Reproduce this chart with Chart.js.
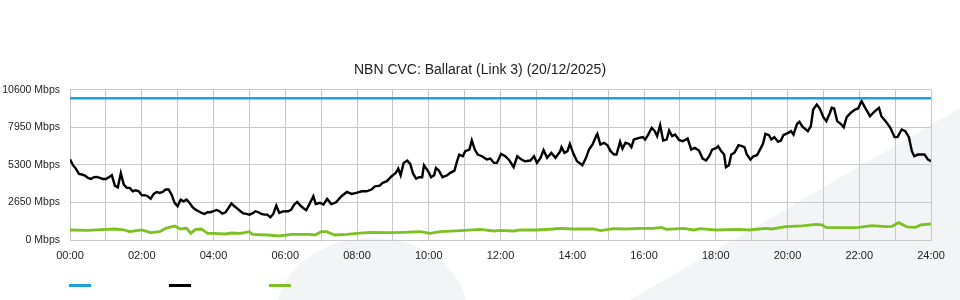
<!DOCTYPE html>
<html>
<head>
<meta charset="utf-8">
<script src="https://cdn.jsdelivr.net/npm/chart.js@4.4.1/dist/chart.umd.min.js"></script>
<style>
  html, body { margin: 0; padding: 0; background: #fff; }
  #wrap { width: 960px; height: 300px; position: relative; }
</style>
</head>
<body>
<div id="wrap"><canvas id="cvc"></canvas></div>
<script>
// ----- data -----
const title = "NBN CVC: Ballarat (Link 3) (20/12/2025)";
const yTicks = [0, 2650, 5300, 7950, 10600];
const xTickLabels = ["00:00","02:00","04:00","06:00","08:00","10:00","12:00","14:00","16:00","18:00","20:00","22:00","24:00"];

// capacity (blue)
const capTimes  = ["00:00", "24:00"];
const capValues = [10000, 10000];

// download traffic (black)
const dlTimes = [
  "00:00","00:05","00:10","00:15","00:20","00:25","00:30","00:35","00:40","00:45","00:50","00:55",
  "01:00","01:05","01:10","01:15","01:20","01:25","01:30","01:35","01:40","01:45","01:50","01:55",
  "02:00","02:05","02:10","02:15","02:20","02:25","02:30","02:35","02:40","02:45","02:50","02:55",
  "03:00","03:05","03:10","03:15","03:20","03:25","03:30","03:35","03:40","03:45","03:50","03:55",
  "04:00","04:05","04:10","04:15","04:20","04:25","04:30","04:35","04:40","04:45","04:50","04:55",
  "05:00","05:05","05:10","05:15","05:20","05:25","05:30","05:35","05:40","05:45","05:50","05:55",
  "06:00","06:05","06:10","06:15","06:20","06:25","06:30","06:35","06:40","06:47","06:51","06:58",
  "07:04","07:10","07:17","07:25","07:34","07:43","07:51","07:59",
  "08:08","08:16","08:24","08:30","08:38","08:43","08:50","08:58",
  "09:05","09:09","09:13","09:18","09:24","09:29","09:34","09:39","09:44","09:49","09:52","09:59",
  "10:04","10:09","10:12","10:17","10:23","10:31","10:36","10:43","10:47","10:51","10:57",
  "11:01","11:08","11:12","11:17","11:22","11:29","11:37","11:43","11:49","11:54",
  "12:01","12:08","12:15","12:22","12:28","12:35","12:41","12:50","12:56",
  "13:01","13:07","13:12","13:18","13:25","13:32","13:40","13:42","13:47","13:52","13:56",
  "14:02","14:08","14:17","14:23","14:28","14:34","14:40","14:42","14:47","14:53","14:59",
  "15:04","15:10","15:14","15:20","15:24","15:29","15:35","15:39","15:43","15:52","15:58",
  "16:02","16:07","16:13","16:18","16:22","16:27","16:32","16:38","16:42","16:47","16:52","16:59",
  "17:05","17:13","17:19","17:25","17:32","17:38","17:44","17:49","17:54",
  "18:01","18:04","18:09","18:14","18:17","18:22","18:26","18:31","18:35","18:38","18:44","18:48","18:52","18:58",
  "19:03","19:09","19:14","19:19","19:23","19:29","19:33","19:38","19:44","19:49","19:53",
  "20:01","20:06","20:10","20:16","20:20","20:25","20:34","20:39","20:43","20:49","20:54",
  "21:00","21:05","21:11","21:14","21:18","21:23","21:29","21:34","21:39","21:46","21:53","21:58",
  "22:04","22:10","22:18","22:25","22:33","22:37","22:44","22:52","22:59",
  "23:04","23:11","23:17","23:23","23:28","23:32","23:38","23:43","23:49","23:55","24:00"
];
const dlValues = [
  5700,5280,5020,4660,4620,4550,4380,4310,4430,4450,4380,4310,
  4310,4430,4570,3840,3720,4710,3910,3680,3680,3440,3510,3440,
  3160,3160,3090,2920,3250,3390,3320,3390,3560,3560,3200,2620,
  2380,2850,2730,2850,2620,2310,2140,2030,1910,1840,1960,1960,
  2030,2120,2030,1860,1950,2260,2590,2380,2210,2030,1880,1840,
  1790,1880,2030,1960,1840,1790,1790,1600,1840,2430,1910,2000,
  2030,2030,2140,2500,2690,2450,2260,2100,2500,3090,2540,2620,
  2500,2900,2540,2660,3090,3390,3250,3320,
  3440,3440,3560,3790,3840,4030,4150,4500,
  4740,5040,4570,5440,5610,5370,4660,4330,4430,4430,5280,4850,
  4430,4570,5090,4900,4430,4570,4740,4900,5510,6030,5910,
  6270,6380,7020,6380,6030,5910,5680,5750,5440,5440,
  6080,5910,5610,5140,5910,5680,5560,5610,5910,
  5440,5800,6340,5800,6150,5800,6270,6550,6150,6270,6780,
  6080,5560,5280,5800,6380,6740,7330,7490,6740,6860,6690,
  6270,6030,6030,6930,6450,6860,6780,6550,7090,7210,7260,
  7090,7440,7920,7680,7330,8100,7020,7090,7730,7330,7440,7050,
  6970,7160,6380,6500,6310,5750,5610,5910,6380,
  6500,6620,6270,6030,5140,5280,6030,6150,6450,6690,6620,6550,6030,5680,
  5910,5980,6380,6780,7490,7400,7090,7260,6930,7020,7400,
  7560,7680,7440,8200,8340,8000,7680,8030,9210,9560,9280,
  8670,8390,8980,9330,9280,8390,8200,7960,8670,8980,9210,9280,
  9800,9330,8740,9050,9330,8740,8390,7920,7260,
  7260,7800,7680,7260,6270,5910,6030,6030,6030,5680,5560
];

// upload traffic (green)
const ulTimes = [
  "00:00","00:30","01:00","01:15","01:30","01:40","02:00","02:15","02:30","02:40","02:55",
  "03:05","03:15","03:22","03:30","03:40","03:50","04:00","04:20","04:30","04:45",
  "05:00","05:05","05:30","05:50","06:10","06:40","06:50","07:00","07:09","07:23","07:43",
  "08:00","08:22","08:50","09:18","09:46","10:02","10:19","10:53","11:26","11:49",
  "12:00","12:22","12:33","13:00","13:28","13:39","14:02","14:36","14:47","15:09","15:31","15:53",
  "16:16","16:29","16:38","17:06","17:23","17:34","18:00","18:39","18:56","19:23","19:34","19:57",
  "20:25","20:47","20:58","21:04","21:26","21:48","21:59","22:22","22:44","22:55",
  "23:06","23:20","23:34","23:43","24:00"
];
const ulValues = [
  707,683,754,777,707,589,707,518,589,824,990,
  777,824,471,754,777,471,471,424,494,471,
  589,400,353,283,400,400,353,589,589,353,400,
  471,541,518,541,589,471,589,659,754,636,
  683,636,707,707,777,824,777,777,659,801,777,824,
  824,895,754,824,707,800,707,754,707,824,777,942,
  990,1107,1060,895,872,872,895,1013,942,965,
  1225,919,895,1060,1131
];

// ----- helpers -----
const toMin = s => Number(s.slice(0, 2)) * 60 + Number(s.slice(3));
const pts = (times, vals) => times.map((t, i) => ({ x: toMin(t), y: vals[i] }));
const family = "'Liberation Sans', Arial, Helvetica, sans-serif";
const gridColor = "#c8c8c8";

// faint watermark shapes behind the chart
const backdrop = {
  id: "backdrop",
  beforeDraw(chart) {
    const { ctx, width, height } = chart;
    ctx.save();
    ctx.fillStyle = "#ffffff";
    ctx.fillRect(0, 0, width, height);
    ctx.fillStyle = "#f3f4f6";
    ctx.beginPath();
    ctx.moveTo(630, 300); ctx.lineTo(960, 108); ctx.lineTo(960, 300);
    ctx.closePath();
    ctx.fill();
    ctx.beginPath();
    ctx.ellipse(372, 312, 95, 74, 0, 0, Math.PI * 2);
    ctx.fill();
    ctx.restore();
  }
};

// legend: bare colour strokes, no text
const strokeLegend = {
  id: "strokeLegend",
  afterDraw(chart) {
    const { ctx } = chart;
    ctx.save();
    chart.data.datasets.forEach((ds, i) => {
      ctx.fillStyle = ds.borderColor;
      ctx.fillRect(69 + i * 100, 284, 22, 3);
    });
    ctx.restore();
  }
};

new Chart(document.getElementById("cvc"), {
  type: "line",
  data: {
    datasets: [
      { label: "", data: pts(capTimes, capValues), borderColor: "#1d9fdf", borderWidth: 2.5, pointRadius: 0 },
      { label: "", data: pts(dlTimes, dlValues), borderColor: "#000000", borderWidth: 2.4, pointRadius: 0 },
      { label: "", data: pts(ulTimes, ulValues), borderColor: "#7cc121", borderWidth: 2.8, pointRadius: 0 }
    ]
  },
  options: {
    responsive: true,
    maintainAspectRatio: false,
    animation: false,
    layout: { padding: 0 },
    plugins: {
      legend: { display: false },
      tooltip: { enabled: false },
      title: {
        display: true, text: title, color: "#222",
        font: { family, size: 14, weight: "normal" },
        padding: { top: 62, bottom: 11 }
      }
    },
    scales: {
      x: {
        type: "linear", min: 0, max: 1440,
        grid: { color: gridColor, drawTicks: false },
        border: { color: gridColor },
        afterBuildTicks: s => { s.ticks = xTickLabels.flatMap((_, i) => i ? [{ value: i * 120 - 60 }, { value: i * 120 }] : [{ value: 0 }]); },
        ticks: {
          color: "#222", font: { family, size: 11 }, padding: 9, autoSkip: false, maxRotation: 0,
          callback: v => (v % 120 === 0 ? xTickLabels[v / 120] : "")
        },
        afterFit: s => { s.height = 60; }
      },
      y: {
        min: 0, max: 10600,
        grid: { color: gridColor, drawTicks: false },
        border: { color: gridColor },
        afterBuildTicks: s => { s.ticks = yTicks.map(v => ({ value: v })); },
        ticks: { color: "#222", font: { family, size: 10.5 }, padding: 10, callback: v => `${v} Mbps` },
        afterFit: s => { s.width = 70; }
      },
      // empty right gutter so the plot ends at 24:00 like the original
      gutter: {
        position: "right", min: 0, max: 10600,
        grid: { drawOnChartArea: false, drawTicks: false },
        border: { display: false },
        ticks: { display: false },
        afterFit: s => { s.width = 29; }
      }
    }
  },
  plugins: [backdrop, strokeLegend]
});
</script>
</body>
</html>
